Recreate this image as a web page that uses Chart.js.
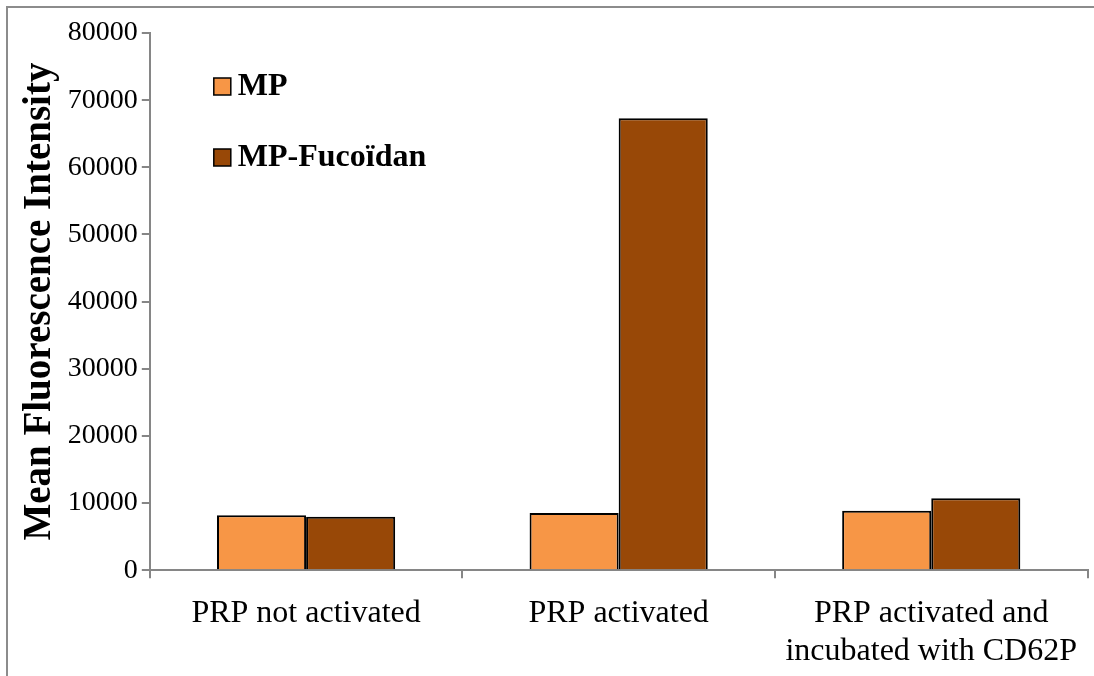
<!DOCTYPE html>
<html>
<head>
<meta charset="utf-8">
<script src="https://cdn.jsdelivr.net/npm/chart.js@4.4.1/dist/chart.umd.min.js"></script>
<style>
  html, body { margin: 0; padding: 0; background: #fff; }
  #wrap { position: relative; width: 1094px; height: 676px; overflow: hidden; }
  #frame { position: absolute; left: 6px; top: 6px; width: 1200px; height: 800px; border: 2px solid #8c8c8c; box-sizing: border-box; }
  #chart { position: absolute; left: 0; top: 0; }
</style>
</head>
<body>
<div id="wrap">
  <div id="frame"></div>
  <canvas id="chart" width="1094" height="676"></canvas>
</div>
<script>
// data
var categories = ["PRP not activated", "PRP activated", ["PRP activated and", "incubated with CD62P"]];
var seriesNames = ["MP", "MP-Fucoïdan"];
var mpValues = [8200, 8500, 8850];
var fucoidanValues = [7950, 67300, 10700];
var yTicks = [0, 10000, 20000, 30000, 40000, 50000, 60000, 70000, 80000];

var axisGray = "#868686";

// legend drawn inside the plot area, stacked like the original
var insideLegend = {
  id: "insideLegend",
  afterDraw: function(chart) {
    var ctx = chart.ctx;
    var area = chart.chartArea;
    ctx.save();
    ctx.font = "bold 32px 'Liberation Serif'";
    ctx.textBaseline = "middle";
    chart.data.datasets.forEach(function(ds, i) {
      var x = area.left + 64;
      var y = area.top + 45 + i * 71;
      ctx.fillStyle = ds.backgroundColor;
      ctx.fillRect(x, y, 17, 17);
      ctx.lineWidth = 1.5;
      ctx.strokeStyle = "#000";
      ctx.strokeRect(x, y, 17, 17);
      ctx.fillStyle = "#000";
      ctx.fillText(ds.label, x + 24, y + 9);
    });
    ctx.restore();
  }
};

var ctx = document.getElementById("chart").getContext("2d");
var chart = new Chart(ctx, {
  type: "bar",
  data: {
    labels: categories,
    datasets: [
      {
        label: seriesNames[0],
        data: mpValues,
        backgroundColor: "#F79646",
        borderColor: "#000",
        borderWidth: 2
      },
      {
        label: seriesNames[1],
        data: fucoidanValues,
        backgroundColor: "#984807",
        borderColor: "#000",
        borderWidth: 2
      }
    ]
  },
  options: {
    responsive: false,
    animation: false,
    layout: { padding: { left: 17, right: 6, top: 33, bottom: -11 } },
    plugins: {
      legend: { display: false },
      tooltip: { enabled: false }
    },
    datasets: {
      bar: { categoryPercentage: 0.57, barPercentage: 1.0 }
    },
    scales: {
      x: {
        grid: {
          offset: true,
          drawOnChartArea: false,
          drawTicks: true,
          tickLength: 8,
          color: axisGray,
          lineWidth: 2
        },
        border: { color: axisGray, width: 2 },
        ticks: {
          color: "#000",
          font: { family: "'Liberation Serif'", size: 32 },
          maxRotation: 0,
          padding: 16
        }
      },
      y: {
        min: 0,
        max: 80000,
        afterBuildTicks: function(axis) {
          axis.ticks = yTicks.map(function(v) { return { value: v }; });
        },
        grid: {
          drawOnChartArea: false,
          drawTicks: true,
          tickLength: 8,
          color: axisGray,
          lineWidth: 2
        },
        border: { color: axisGray, width: 2 },
        ticks: {
          color: "#000",
          font: { family: "'Liberation Serif'", size: 28 },
          padding: 4,
          callback: function(v) { return String(v); }
        },
        title: {
          display: true,
          text: "Mean Fluorescence Intensity",
          color: "#000",
          font: { family: "'Liberation Serif'", size: 39, weight: "bold" },
          padding: 0
        }
      }
    }
  },
  plugins: [insideLegend]
});
</script>
</body>
</html>
